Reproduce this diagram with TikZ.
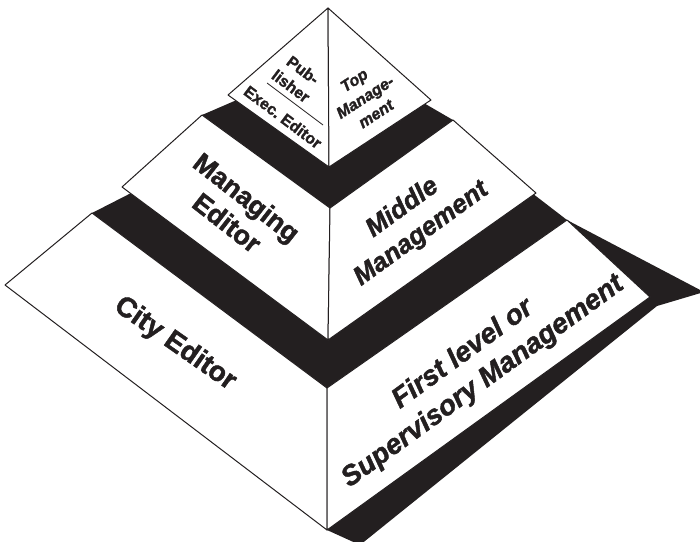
\documentclass[tikz,border=0pt]{standalone}
\usepackage{fontspec}
\setmainfont{Liberation Sans}
\newfontfamily\heavyfont{Liberation Sans Bold}[FakeBold=1.6]
\newfontfamily\heavyslant{Liberation Sans Bold Italic}[FakeBold=1.6]
\usepackage{tikz}
\definecolor{inkblack}{HTML}{231F20}
\tikzset{
  face/.style={fill=white,draw=inkblack,line width=1pt,line join=round},
  blacktop/.style={fill=inkblack},
  leftlabel/.style={font=\fontsize{27}{32}\selectfont\heavyfont,text=inkblack,align=center,inner sep=0pt},
  rightlabel/.style={leftlabel,font=\fontsize{26}{32}\selectfont\heavyslant},
  smalllabel/.style={font=\fontsize{16}{20}\selectfont\heavyfont,text=inkblack,align=center,inner sep=0pt},
  smallright/.style={smalllabel,font=\fontsize{16}{20}\selectfont\heavyslant}
}

\begin{document}
\begin{tikzpicture}[x=1pt,y=-1pt]
  \useasboundingbox (0,0) rectangle (700,541);
  \clip (0,0) rectangle (700,541);

  % top tier (pyramid)
  \coordinate (apex) at (328,8);
  \coordinate (tl) at (228,95);
  \coordinate (tf) at (329,167);
  \coordinate (tr) at (431,100);
  % middle tier
  \coordinate (mtl) at (202,115);
  \coordinate (mtf) at (330,208);
  \coordinate (mtr) at (453,120);
  \coordinate (mtb) at (341,55);
  \coordinate (mbl) at (122,187);
  \coordinate (mbf) at (328,340);
  \coordinate (mbr) at (536,193);
  % lowest tier
  \coordinate (btl) at (92,213);
  \coordinate (btf) at (327,388);
  \coordinate (btr) at (567,220);
  \coordinate (btb) at (372,70);
  \coordinate (bbl) at (5,285);
  \coordinate (bbf) at (327,530);
  \coordinate (bbr) at (650,297);
  % shadow corners
  \coordinate (shtip) at (704,292);
  \coordinate (shlow) at (657,306);
  \coordinate (shend) at (360,545);

  % shadow and lowest tier
  \fill[blacktop] (btr) -- (shtip) -- (shlow) -- (shend) -- (bbf) -- cycle;
  \fill[blacktop] (btl) -- (btf) -- (btr) -- (btb) -- cycle;
  \filldraw[face] (btl) -- (btf) -- (bbf) -- (bbl) -- cycle;
  \filldraw[face] (btf) -- (btr) -- (bbr) -- (bbf) -- cycle;

  % middle tier
  \fill[blacktop] (mtl) -- (mtf) -- (mtr) -- (mtb) -- cycle;
  \filldraw[face] (mtl) -- (mtf) -- (mbf) -- (mbl) -- cycle;
  \filldraw[face] (mtf) -- (mtr) -- (mbr) -- (mbf) -- cycle;

  % top tier
  \filldraw[face] (apex) -- (tl) -- (tf) -- cycle;
  \filldraw[face] (apex) -- (tf) -- (tr) -- cycle;

  % labels
  \node[smalllabel,rotate=-37] (publisher) at (297,78) {Pub-\\lisher};
  \coordinate (splitl) at (267,83);
  \coordinate (splitr) at (323,125);
  \draw[inkblack,line width=0.8pt] (splitl) -- (splitr);
  \node[smalllabel,rotate=-37] (exec) at (283,117) {Exec.\ Editor};
  \node[smallright,rotate=33] (topmgmt) at (365,97) {Top\\Manage-\\ment};

  \node[leftlabel,rotate=-38] (maned) at (237,210) {Managing\\Editor};
  \node[rightlabel,rotate=36] (midmgmt) at (412,221) {Middle\\Management};

  \node[leftlabel,font=\fontsize{28}{32}\selectfont\heavyfont,rotate=-35] (cityed) at (175,344) {City Editor};
  \node[rightlabel,font=\fontsize{28}{34}\selectfont\heavyslant,rotate=36] (firstmgmt) at (473,368) {First level or\\Supervisory Management};
\end{tikzpicture}
\end{document}
